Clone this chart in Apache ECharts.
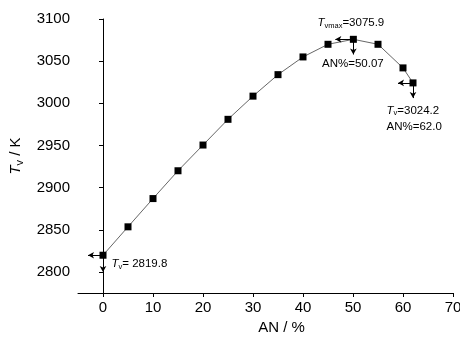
<!DOCTYPE html>
<html><head><meta charset="utf-8">
<script src="https://cdn.jsdelivr.net/npm/echarts@6/dist/echarts.min.js"></script>
<style>html,body{margin:0;padding:0;background:#fff}#c{width:460px;height:338px}</style>
</head><body><div id="c"></div>
<script>
const anPercent = [0, 5, 10, 15, 20, 25, 30, 35, 40, 45, 50.07, 55, 60, 62.0];
const tvValues = [2819.8, 2853.5, 2887, 2920, 2950.5, 2981, 3008.5, 3034, 3055, 3070, 3075.9, 3070, 3042, 3024.2];
const xTicks = [0, 10, 20, 30, 40, 50, 60, 70];
const yTicks = [2800, 2850, 2900, 2950, 3000, 3050, 3100];

const chart = echarts.init(document.getElementById('c'), null, {renderer: 'canvas'});
const font = 'Liberation Sans, Arial, sans-serif';
const rich = {
  t: {fontStyle: 'italic', fontSize: 11.5, fontFamily: font, color: '#000'},
  s: {fontSize: 7.5, fontFamily: font, color: '#000', padding: [6, 0, 0, 0]},
  n: {fontSize: 11.5, fontFamily: font, color: '#000'}
};
const p0 = [anPercent[0], tvValues[0]];
const pm = [anPercent[10], tvValues[10]];
const pe = [anPercent[13], tvValues[13]];
function arrow(from, to) {
  return [{coord: from}, {coord: to}];
}
chart.setOption({
  animation: false,
  grid: {left: 78, right: 7, top: 19, bottom: 45, containLabel: false, outerBoundsMode: 'none'},
  xAxis: {
    type: 'value', min: -5, max: 70,
    name: 'AN / %', nameLocation: 'middle', nameGap: 19,
    nameTextStyle: {fontSize: 15, fontFamily: font, color: '#000', padding: [0, 0, 0, 32]},
    axisLine: {show: true, lineStyle: {color: '#000', width: 1}},
    axisTick: {show: true, inside: false, length: 4, customValues: xTicks, lineStyle: {color: '#000'}},
    axisLabel: {customValues: xTicks, fontSize: 15, fontFamily: font, color: '#000', margin: 7,
      formatter: v => String(v)},
    splitLine: {show: false}
  },
  yAxis: {
    type: 'value', min: 2775, max: 3100,
    name: '{t|T}{s|v}{n| / K}', nameLocation: 'middle', nameGap: 53,
    nameTextStyle: {fontSize: 15, fontFamily: font, color: '#000',
      rich: {t: {fontStyle: 'italic', fontSize: 15, fontFamily: font}, s: {fontSize: 11, fontFamily: font, padding: [7, 0, 0, 0]}, n: {fontSize: 15, fontFamily: font}}},
    axisLine: {show: true, lineStyle: {color: '#000', width: 1}},
    axisTick: {show: true, inside: false, length: 4, customValues: yTicks, lineStyle: {color: '#000'}},
    axisLabel: {customValues: yTicks, fontSize: 15, fontFamily: font, color: '#000', margin: 8,
      formatter: v => String(v)},
    splitLine: {show: false}
  },
  series: [{
    type: 'line',
    data: anPercent.map((x, i) => [x, tvValues[i]]),
    symbol: 'rect', symbolSize: 7,
    itemStyle: {color: '#000'},
    lineStyle: {color: '#555', width: 0.9},
    markLine: {
      silent: true,
      symbol: ['none', 'arrow'], symbolSize: [5, 6],
      lineStyle: {color: '#000', width: 1, type: 'solid'},
      label: {show: false},
      data: [
        arrow(p0, [p0[0] - 3, p0[1]]),
        arrow(p0, [p0[0], p0[1] - 20]),
        arrow(pm, [pm[0] - 3.6, pm[1]]),
        arrow(pm, [pm[0], pm[1] - 18]),
        arrow(pe, [pe[0] - 3, pe[1]]),
        arrow(pe, [pe[0], pe[1] - 18])
      ]
    },
    markPoint: {
      silent: true,
      symbol: 'circle', symbolSize: 1,
      itemStyle: {color: 'rgba(0,0,0,0)'},
      data: [
        {coord: p0, label: {show: true, position: [9, 9], align: 'left', verticalAlign: 'middle',
          formatter: '{t|T}{s|v}{n|= ' + p0[1].toFixed(1) + '}', rich: rich}},
        {coord: pm, label: {show: true, position: [-2, -16], align: 'center', verticalAlign: 'middle',
          formatter: '{t|T}{s|vmax}{n|=' + pm[1].toFixed(1) + '}', rich: rich}},
        {coord: pm, label: {show: true, position: [0, 25], align: 'center', verticalAlign: 'middle',
          formatter: '{n|AN%=' + pm[0].toFixed(2) + '}', rich: rich}},
        {coord: pe, label: {show: true, position: [-26, 28], align: 'left', verticalAlign: 'middle',
          formatter: '{t|T}{s|v}{n|=' + pe[1].toFixed(1) + '}', rich: rich}},
        {coord: pe, label: {show: true, position: [-26, 44], align: 'left', verticalAlign: 'middle',
          formatter: '{n|AN%=' + pe[0].toFixed(1) + '}', rich: rich}}
      ]
    }
  }]
});
</script></body></html>
